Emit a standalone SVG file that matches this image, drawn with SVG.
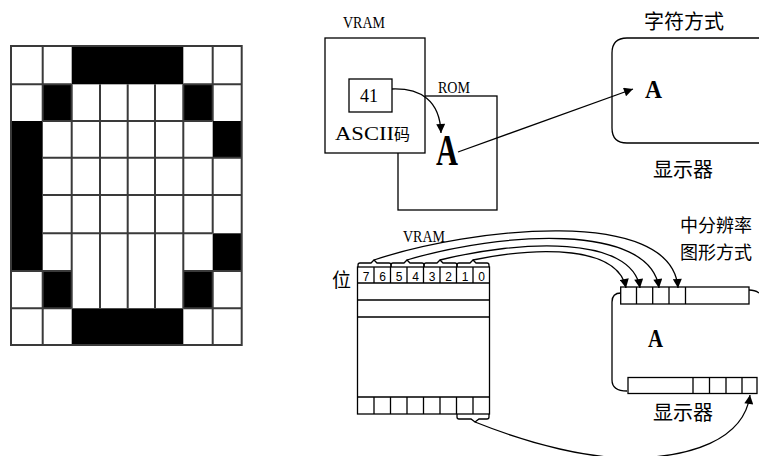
<svg xmlns="http://www.w3.org/2000/svg" width="759" height="456" viewBox="0 0 759 456">
<style>
.ln{fill:none;stroke:#000;stroke-width:1.3}
.bx{fill:#fff;stroke:#000;stroke-width:1.3}
.gl{fill:none;stroke:#3a3a3a;stroke-width:2}
.blk{fill:#000}
.ser{font-family:"Liberation Serif",serif;fill:#000}
.cjk{font-family:"Noto Sans CJK SC",sans-serif;fill:#000}
.dig{font-family:"Liberation Sans",sans-serif;font-size:12px;fill:#000;text-anchor:middle}
.arr{fill:none;stroke:#000;stroke-width:1.3;marker-end:url(#ah)}
</style>
<defs>
<marker id="ah" viewBox="0 0 10 10" refX="10" refY="5" markerWidth="12" markerHeight="9" markerUnits="userSpaceOnUse" orient="auto"><path d="M0,0 L10,5 L0,10 z" fill="#000"/></marker>
</defs>
<rect width="759" height="456" fill="#fff"/>

<g id="dot-matrix">
<rect x="11" y="46" width="230.7" height="299" fill="#fff"/>
<rect class="blk" x="71.7" y="46" width="111.6" height="38.3"/>
<rect class="blk" x="42.7" y="84.3" width="29" height="36.7"/>
<rect class="blk" x="183.3" y="84.3" width="29.4" height="36.7"/>
<rect class="blk" x="11" y="121" width="31.7" height="150"/>
<rect class="blk" x="212.7" y="121" width="29" height="36.7"/>
<rect class="blk" x="212.7" y="233.3" width="29" height="37.7"/>
<rect class="blk" x="42.7" y="271" width="29" height="37.3"/>
<rect class="blk" x="183.3" y="271" width="29.4" height="37.3"/>
<rect class="blk" x="71.7" y="308.3" width="111.6" height="36.7"/>
<path class="gl" d="M42.7,46V121M42.7,271V345M71.7,84.3V308.3M100,84.3V308.3M127.7,84.3V308.3M155,84.3V308.3M183.3,84.3V308.3M212.7,46V121M212.7,157.7V233.3M212.7,271V345"/>
<path class="gl" d="M11,84.3H71.7M183.3,84.3H241.7M42.7,121H212.7M42.7,157.7H241.7M42.7,195H241.7M42.7,233.3H212.7M11,271H71.7M183.3,271H241.7M11,308.3H71.7M183.3,308.3H241.7"/>
<rect class="gl" x="11" y="46" width="230.7" height="299"/>
</g>

<g id="rom">
<rect class="bx" x="398" y="96" width="99" height="114"/>
<text class="ser" x="438" y="93" font-size="17" textLength="32" lengthAdjust="spacingAndGlyphs">ROM</text>
<text class="ser" x="436" y="165" font-size="44" font-weight="bold" textLength="22" lengthAdjust="spacingAndGlyphs">A</text>
</g>

<g id="vram-top">
<rect class="bx" x="325" y="38" width="100" height="115"/>
<text class="ser" x="343" y="28" font-size="17" textLength="42" lengthAdjust="spacingAndGlyphs">VRAM</text>
<rect class="bx" x="349" y="79" width="43" height="33"/>
<text class="ser" x="360" y="102" font-size="18" textLength="18" lengthAdjust="spacingAndGlyphs">41</text>
<text x="335" y="140"><tspan class="ser" font-size="18" textLength="59" lengthAdjust="spacingAndGlyphs">ASCII</tspan><tspan class="cjk" font-size="16">码</tspan></text>
</g>

<g id="display-char">
<path class="ln" d="M759,38 H627 Q612,38 612,53 V128 Q612,143 627,143 H759"/>
<text class="cjk" x="684" y="29" font-size="20" text-anchor="middle">字符方式</text>
<text class="ser" x="645" y="98" font-size="26" font-weight="bold" textLength="17" lengthAdjust="spacingAndGlyphs">A</text>
<text class="cjk" x="683" y="177" font-size="20" text-anchor="middle">显示器</text>
</g>

<g id="vram-bottom">
<rect class="bx" x="357.5" y="267" width="132" height="147"/>
<text class="ser" x="403" y="242" font-size="17" textLength="42" lengthAdjust="spacingAndGlyphs">VRAM</text>
<text class="cjk" x="332" y="287" font-size="19">位</text>
<path class="ln" d="M357.5,283H489.5M357.5,300H489.5M357.5,317H489.5M357.5,397H489.5"/>
<path class="ln" d="M374,267V283M390.5,267V283M407,267V283M423.5,267V283M440,267V283M456.5,267V283M473,267V283"/>
<path class="ln" d="M374,397V414M390.5,397V414M407,397V414M423.5,397V414M440,397V414M456.5,397V414M473,397V414"/>
<text class="dig" x="366" y="281">7</text>
<text class="dig" x="382.5" y="281">6</text>
<text class="dig" x="399" y="281">5</text>
<text class="dig" x="415.5" y="281">4</text>
<text class="dig" x="432" y="281">3</text>
<text class="dig" x="448.5" y="281">2</text>
<text class="dig" x="465" y="281">1</text>
<text class="dig" x="481.5" y="281">0</text>
<path class="ln" d="M358,267V265Q358,263 360,263H371L374,260L377,263H389Q391,263 391,265V267"/>
<path class="ln" d="M391,267V265Q391,263 393,263H404L407,260L410,263H422Q424,263 424,265V267"/>
<path class="ln" d="M424,267V265Q424,263 426,263H437L440,260L443,263H455Q457,263 457,265V267"/>
<path class="ln" d="M457,267V265Q457,263 459,263H470L473,260L476,263H487Q489,263 489,265V267"/>
<path class="ln" d="M457,414V417Q457,419 459,419H471L475,422L479,419H487Q489,419 489,417V414"/>
</g>

<g id="display-graphic">
<path class="ln" d="M621,293 Q612,293 612,302 V380 Q612,391 627,391"/>
<path class="ln" d="M749,290 Q755,290 759,293"/>
<rect class="bx" x="620.7" y="287" width="128.3" height="17"/>
<path class="ln" d="M636.5,287V304M652.7,287V304M669,287V304M685.5,287V304"/>
<rect class="bx" x="628" y="377.5" width="129" height="16"/>
<path class="ln" d="M693,377.5V393.5M709.5,377.5V393.5M726,377.5V393.5M742,377.5V393.5"/>
<text class="ser" x="648" y="347" font-size="25" font-weight="bold" textLength="15" lengthAdjust="spacingAndGlyphs">A</text>
<text class="cjk" x="683" y="420" font-size="20" text-anchor="middle">显示器</text>
<text class="cjk" x="680" y="232" font-size="18">中分辨率</text>
<text class="cjk" x="680" y="259" font-size="18">图形方式</text>
</g>

<g id="connectors">
<path class="arr" d="M392,89 C420,88 440,100 441,133"/>
<path class="arr" d="M458,152 L633,89"/>
<path class="arr" d="M374,260 C470,228 672,205 678,288"/>
<path class="arr" d="M407,260 C500,232 650,222 659,288"/>
<path class="arr" d="M440,260 C520,240 632,235 640,288"/>
<path class="arr" d="M473,260 C540,246 618,246 626,288"/>
<path class="arr" d="M475,422 C535,446 590,458 628,458 C690,458 744,440 750,395"/>
</g>
</svg>
